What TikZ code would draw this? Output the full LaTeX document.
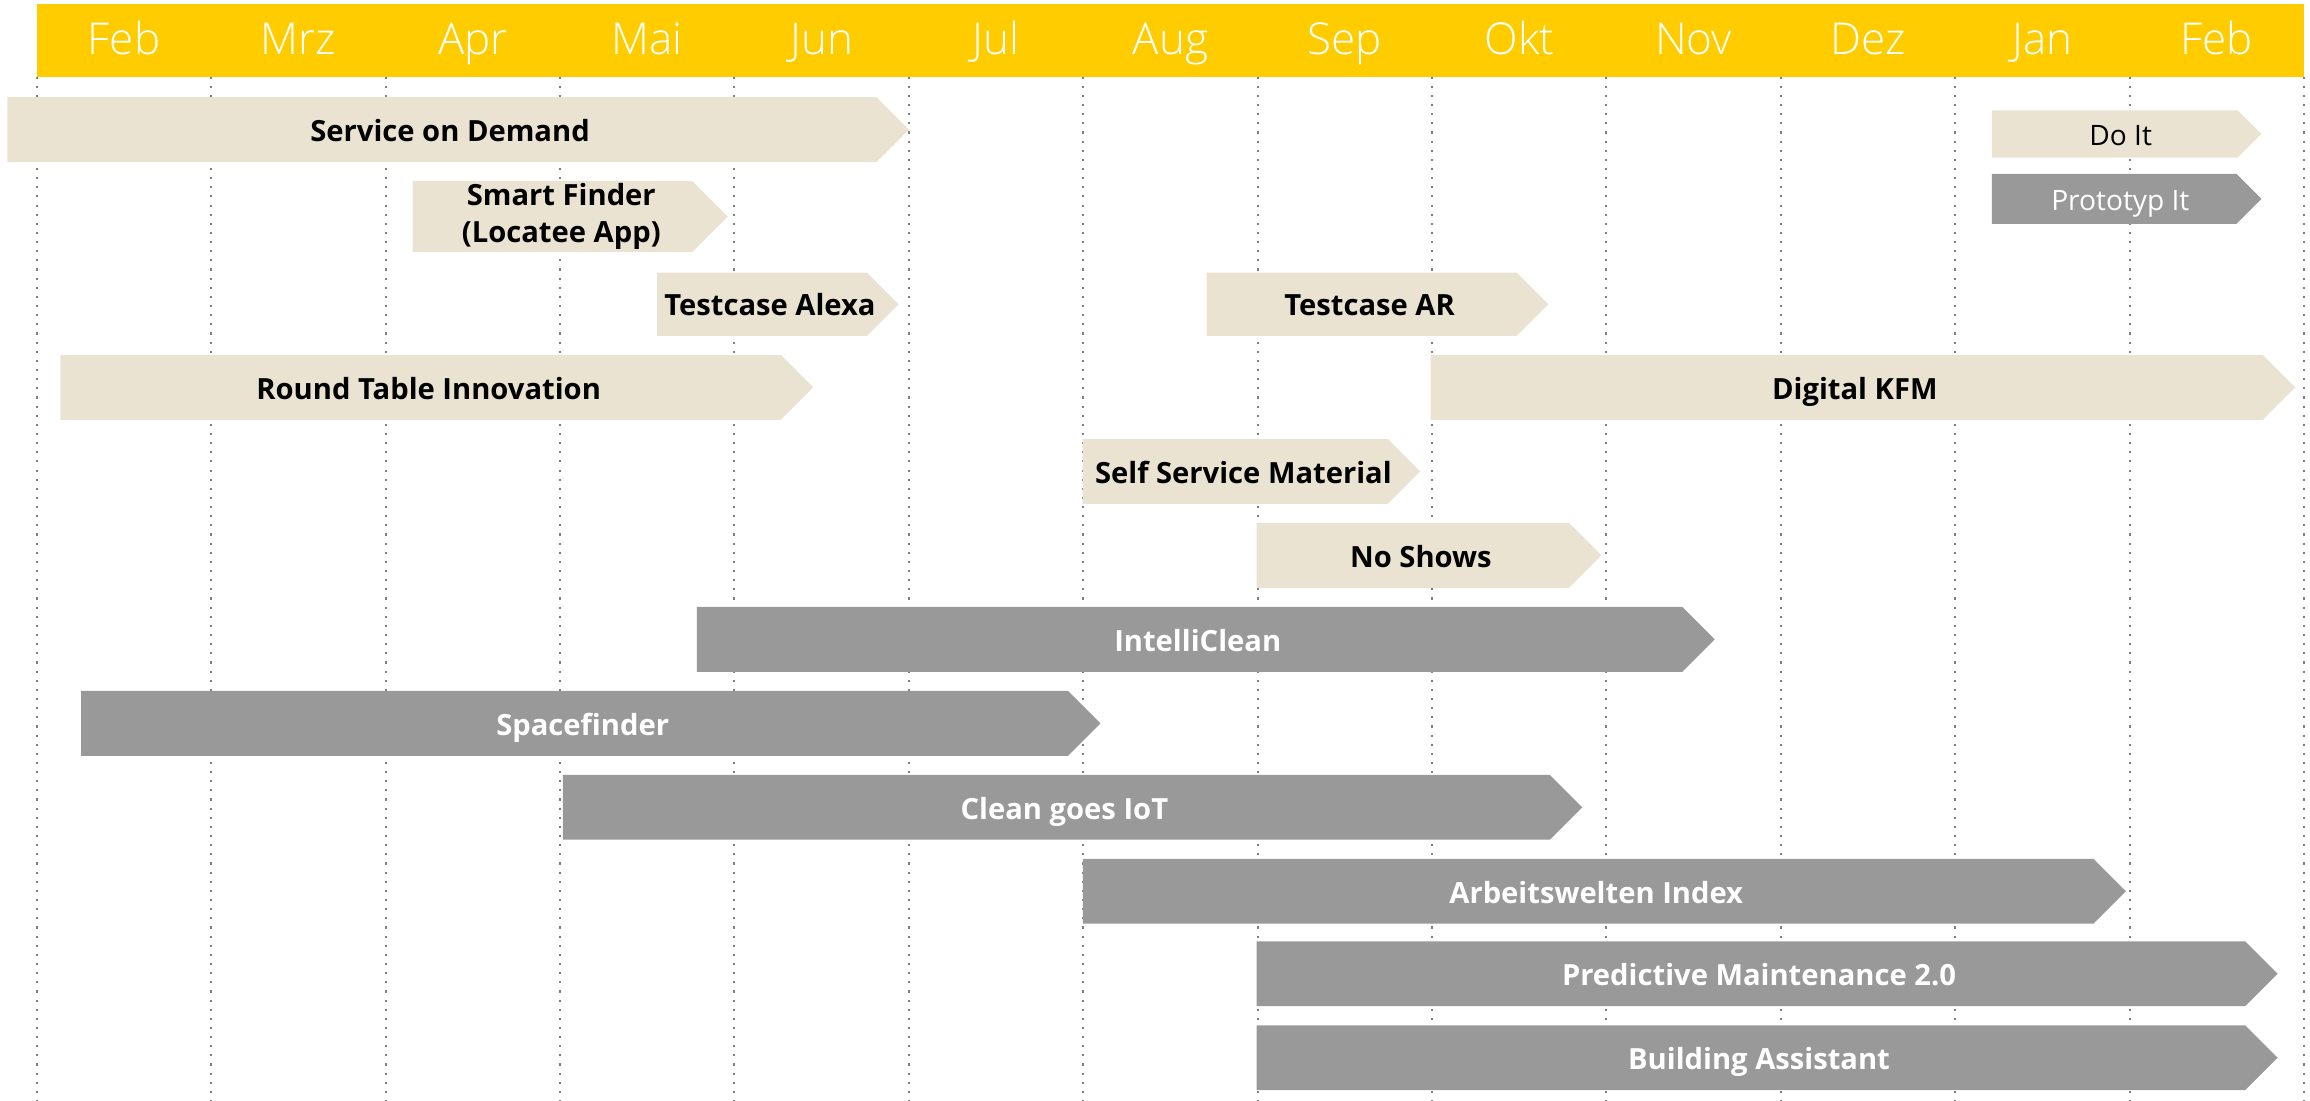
\documentclass[tikz,border=0pt]{standalone}
\usepackage{fontspec}
\setmainfont{Open Sans}
\newfontfamily\lightfont{Open Sans}[UprightFont={* Light}]
\definecolor{hdr}{HTML}{FFCC00}
\definecolor{sand}{HTML}{EAE3D2}
\definecolor{slate}{HTML}{999999}
\definecolor{gridc}{HTML}{808080}
\tikzset{
  month/.style={text=white, font=\lightfont\fontsize{12.5}{14}\selectfont, inner sep=0pt, anchor=base},
  sandbar/.style={fill=sand},
  slatebar/.style={fill=slate},
  bar font/.style={font=\fontsize{8.3}{10.5}\selectfont\bfseries, inner sep=0pt, align=center},
  bar label/.style={bar font, text height=1.45ex, text depth=0.2ex},
  sandbar text/.style={bar label, text=black},
  slatebar text/.style={bar label, text=white},
  two lines/.style={bar font, text=black},
  key label/.style={font=\fontsize{8}{10}\selectfont, inner sep=0pt, text height=1.45ex, text depth=0.2ex},
  sandkey text/.style={key label, text=black},
  slatekey text/.style={key label, text=white},
  gridline/.style={gridc, line width=0.6pt, dotted},
}
% #1 name, #2 style, #3 left x, #4 tip x, #5 top y, #6 bottom y, #7 label
\newcommand\tlbar[7]{%
  \fill[#2] (#3,#5) -- ({#4-(#6-#5)/2},#5) -- (#4,{(#5+#6)/2})
     -- ({#4-(#6-#5)/2},#6) -- (#3,#6) -- cycle;
  \node[#2 text] (#1) at ({(#3+#4-(#6-#5)/4)/2},{(#5+#6)/2}) {#7};
}
\begin{document}
\begin{tikzpicture}[x=0.14732mm, y=-0.14732mm]
\useasboundingbox (0,0) rectangle (1568,747);
% month header
\fill[hdr] (25,3) rectangle (1564,52);
\foreach \m [count=\i] in {Feb,Mrz,Apr,Mai,Jun,Jul,Aug,Sep,Okt,Nov,Dez,Jan,Feb}
  \node[month] (m\i) at ({25+(\i-0.5)*118.38},37) {\m};
% column separators
\foreach \k in {0,...,13}
  \draw[gridline] ({25+\k*118.38},52) -- ({25+\k*118.38},747);
% bars
\tlbar{sod}{sandbar}{5}{617}{66}{110}{Service on Demand}
\tlbar{smf}{sandbar}{280}{494}{123}{171}{}
\node[two lines] (smfl) at (smf) {Smart Finder\\(Locatee App)};
\tlbar{alx}{sandbar}{446}{610}{185}{228}{Testcase Alexa}
\tlbar{tar}{sandbar}{819}{1051}{185}{228}{Testcase AR}
\tlbar{rti}{sandbar}{41}{552}{241}{285}{Round Table Innovation}
\tlbar{kfm}{sandbar}{971}{1558}{241}{285}{Digital KFM}
\tlbar{ssm}{sandbar}{735}{964}{298}{342}{Self Service Material}
\tlbar{nsh}{sandbar}{853}{1087}{355}{399}{No Shows}
\tlbar{icl}{slatebar}{473}{1164}{412}{456}{IntelliClean}
\tlbar{spf}{slatebar}{55}{747}{469}{513}{Spacefinder}
\tlbar{cgi}{slatebar}{382}{1074}{526}{570}{Clean goes IoT}
\tlbar{awi}{slatebar}{735}{1443}{583}{627}{Arbeitswelten Index}
\tlbar{pm2}{slatebar}{853}{1546}{639}{683}{Predictive Maintenance 2.0}
\tlbar{bas}{slatebar}{853}{1546}{696}{740}{Building Assistant}
% key
\tlbar{doit}{sandbar}{1352}{1535}{75}{107}{}
\node[sandkey text] (doitl) at (doit) {Do It};
\tlbar{proto}{slatebar}{1352}{1535}{118}{152}{}
\node[slatekey text] (protol) at (proto) {Prototyp It};
\end{tikzpicture}
\end{document}
